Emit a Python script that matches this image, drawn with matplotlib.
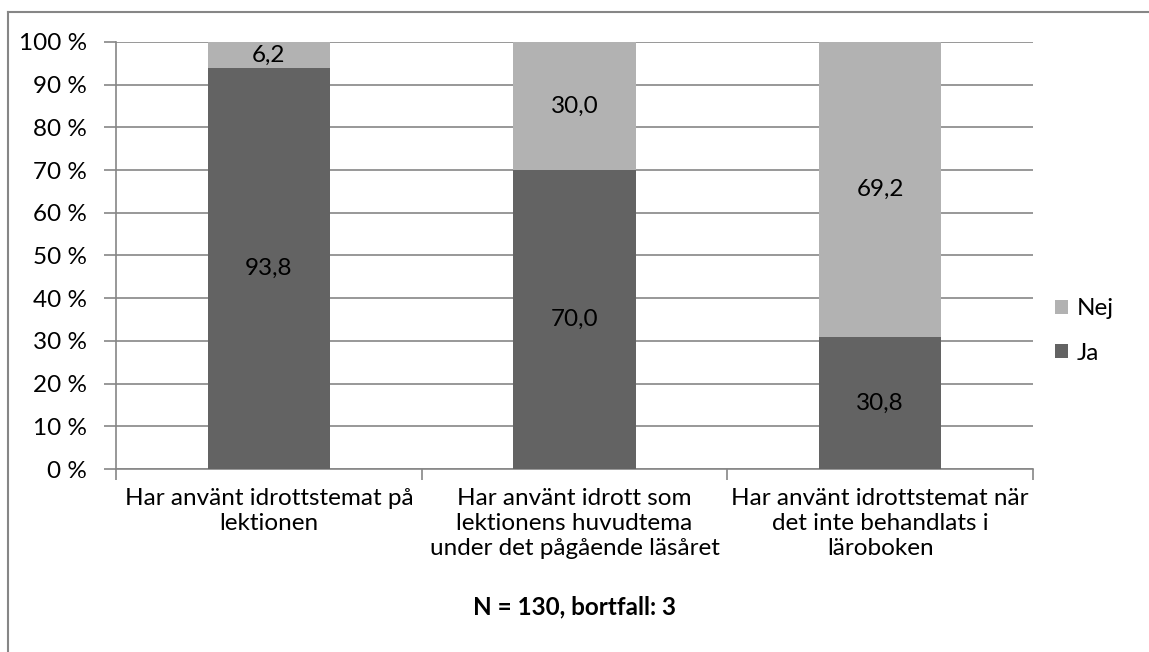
import matplotlib.pyplot as plt
from matplotlib.lines import Line2D
from matplotlib.ticker import FuncFormatter

# Data
categories = ["Har använt idrottstemat på\nlektionen",
              "Har använt idrott som\nlektionens huvudtema\nunder det pågående läsåret",
              "Har använt idrottstemat när\ndet inte behandlats i\nläroboken"]
ja  = [93.8, 70.0, 30.8]
nej = [6.2, 30.0, 69.2]
series_names = ["Ja", "Nej"]
xlabel = "N = 130, bortfall: 3"

plt.rcParams['font.family'] = ['Lato', 'DejaVu Sans']
fs = 17.5

fig = plt.figure(figsize=(11.49, 6.52), dpi=100)
W, H = 1149, 652
ax = fig.add_axes([116/W, 1-469/H, (1033-116)/W, (469-42)/H])

x = range(len(categories))
b1 = ax.bar(x, ja, width=0.4, color="#636363", label=series_names[0], zorder=3)
b2 = ax.bar(x, nej, width=0.4, bottom=ja, color="#b2b2b2", label=series_names[1], zorder=3)

for i in x:
    ax.text(i, ja[i]/2, f"{ja[i]:.1f}".replace(".", ","), ha="center", va="center", fontsize=fs, zorder=4)
    ax.text(i, ja[i] + nej[i]/2, f"{nej[i]:.1f}".replace(".", ","), ha="center", va="center", fontsize=fs, zorder=4)

ax.set_xlim(-0.5, len(categories)-0.5)
ax.set_ylim(0, 100)
ax.set_yticks(range(0, 101, 10))
ax.yaxis.set_major_formatter(FuncFormatter(lambda v, p: f"{int(v)} %"))
ax.grid(axis="y", color="#868686", lw=1.2, zorder=0)
ax.tick_params(axis="y", length=9, width=1.2, color="#868686", labelsize=fs, pad=12)

ax.set_xticks([i for i in x])
ax.set_xticklabels(categories, fontsize=fs, linespacing=1.22)
ax.set_xticks([-0.5, 0.5, 1.5, 2.5], minor=True)
ax.tick_params(axis="x", which="major", length=0, pad=14)
ax.tick_params(axis="x", which="minor", length=8, width=1.2, color="#868686")

for s in ["top", "right"]:
    ax.spines[s].set_visible(False)
for s in ["left", "bottom"]:
    ax.spines[s].set_color("#868686")
    ax.spines[s].set_linewidth(1.2)

ax.set_xlabel(xlabel, fontsize=fs, fontweight="bold", labelpad=26)

handles = [b2, b1]
ax.legend(handles, [series_names[1], series_names[0]], loc="center left",
          bbox_to_anchor=(1033/W + 0.0, 1-331/H), bbox_transform=fig.transFigure,
          frameon=False, fontsize=fs, handlelength=0.55, handleheight=0.55,
          handletextpad=0.35, labelspacing=0.95)

# outer frame
fig.add_artist(Line2D([8/W, 8/W], [0, 1-12/H], transform=fig.transFigure, color="#868686", lw=1.5))
fig.add_artist(Line2D([8/W, 1], [1-12/H, 1-12/H], transform=fig.transFigure, color="#868686", lw=1.5))

fig.savefig("out.png", dpi=100)
